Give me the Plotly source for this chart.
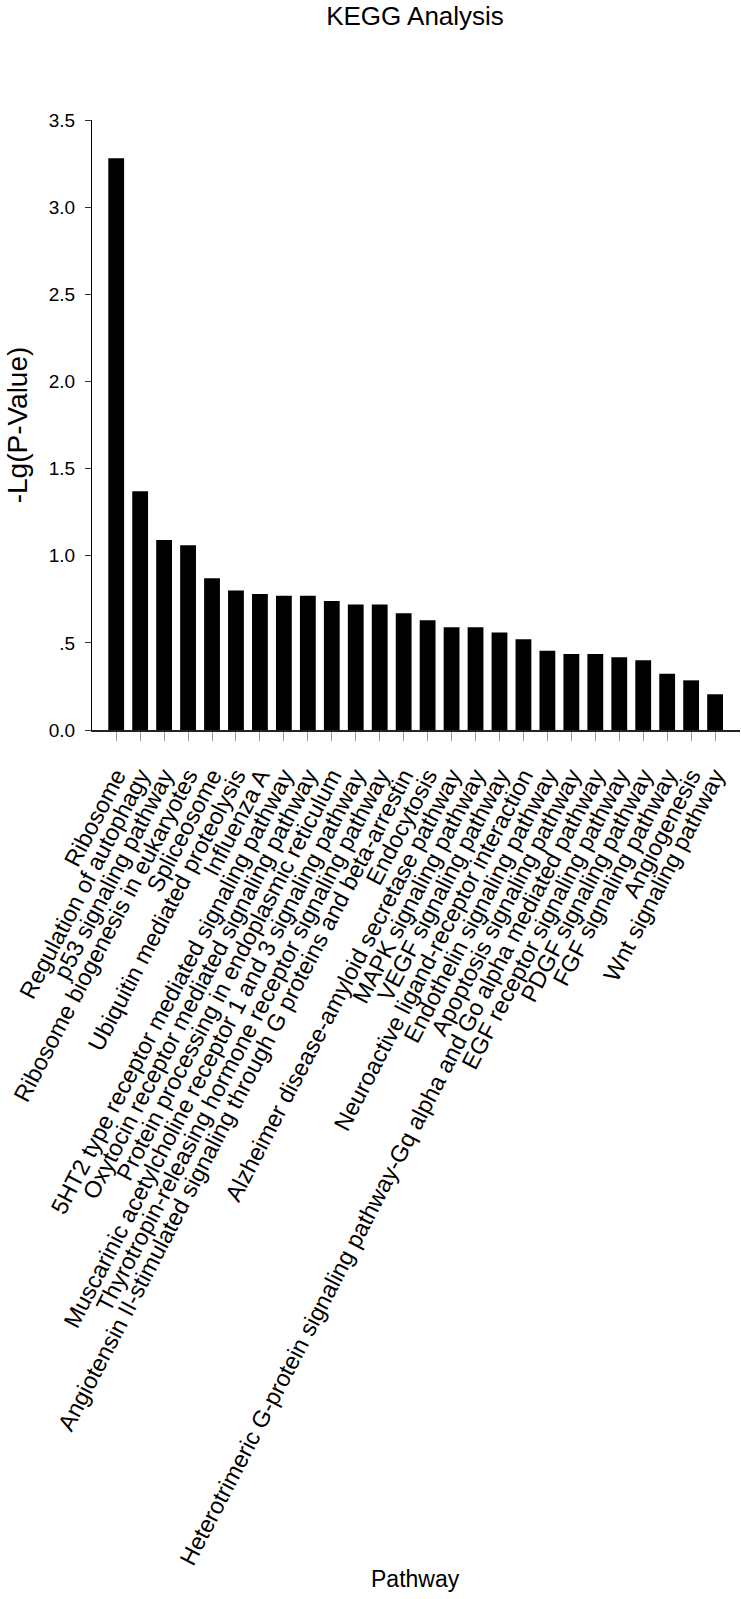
import plotly.graph_objects as go

# KEGG pathways, ordered as in the original figure
pathways = [
    "Ribosome",
    "Regulation of autophagy",
    "p53 signaling pathway",
    "Ribosome biogenesis in eukaryotes",
    "Spliceosome",
    "Ubiquitin mediated proteolysis",
    "Influenza A",
    "5HT2 type receptor mediated signaling pathway",
    "Oxytocin receptor mediated signaling pathway",
    "Protein processing in endoplasmic reticulum",
    "Muscarinic acetylcholine receptor 1 and 3 signaling pathway",
    "Thyrotropin-releasing hormone receptor signaling pathway",
    "Angiotensin II-stimulated signaling through G proteins and beta-arrestin",
    "Endocytosis",
    "Alzheimer disease-amyloid secretase pathway",
    "MAPK signaling pathway",
    "VEGF signaling pathway",
    "Neuroactive ligand-receptor interaction",
    "Endothelin signaling pathway",
    "Apoptosis signaling pathway",
    "Heterotrimeric G-protein signaling pathway-Gq alpha and Go alpha mediated pathway",
    "EGF receptor signaling pathway",
    "PDGF signaling pathway",
    "FGF signaling pathway",
    "Angiogenesis",
    "Wnt signaling pathway",
]

neg_lg_p = [
    3.28, 1.37, 1.09, 1.06, 0.87, 0.80, 0.78, 0.77, 0.77, 0.74, 0.72, 0.72, 0.67,
    0.63, 0.59, 0.59, 0.56, 0.52, 0.455, 0.436, 0.436, 0.417, 0.40, 0.323, 0.285, 0.205,
]

y_tick_vals = [0, 0.5, 1.0, 1.5, 2.0, 2.5, 3.0, 3.5]
y_tick_text = ["0.0", ".5", "1.0", "1.5", "2.0", "2.5", "3.0", "3.5"]

FONT = "Liberation Sans, Arial, sans-serif"

fig = go.Figure(
    go.Bar(
        x=pathways,
        y=neg_lg_p,
        width=0.66,
        marker=dict(color="black", line=dict(width=0)),
        hovertemplate="%{x}: %{y:.2f}<extra></extra>",
    )
)

fig.update_layout(
    width=741,
    height=1599,
    margin=dict(l=92, r=1, t=120, b=869),
    plot_bgcolor="white",
    paper_bgcolor="white",
    showlegend=False,
    font=dict(family=FONT, color="black"),
    title=dict(
        text="KEGG Analysis",
        font=dict(family=FONT, size=26, color="black"),
        x=415 / 741,
        xanchor="center",
        xref="container",
        y=1 - 16 / 1599,
        yanchor="middle",
        yref="container",
    ),
    xaxis=dict(
        type="category",
        automargin=False,
        range=[-1.01, 26.04],
        tickmode="array",
        tickvals=pathways,
        ticktext=pathways,
        showgrid=False,
        zeroline=False,
        showline=True,
        linecolor="#222222",
        linewidth=1.5,
        ticks="outside",
        ticklen=9,
        tickcolor="#999999",
        tickwidth=1,
        tickangle=-62.5,
        ticklabelstandoff=12,
        tickfont=dict(family=FONT, size=23.5, color="black"),
    ),
    yaxis=dict(
        automargin=False,
        range=[0, 3.5],
        showgrid=False,
        zeroline=False,
        showline=True,
        linecolor="black",
        linewidth=1,
        ticks="outside",
        ticklen=6,
        tickcolor="#333333",
        tickvals=y_tick_vals,
        ticktext=y_tick_text,
        ticklabelstandoff=6,
        tickfont=dict(family=FONT, size=19, color="black"),
        title=dict(
            text="-Lg(P-Value)",
            font=dict(family=FONT, size=28, color="black"),
            standoff=12,
        ),
    ),
    annotations=[
        dict(
            text="Pathway",
            xref="paper",
            yref="paper",
            x=(415 - 92) / 648,
            y=-(1579 - 730) / 610,
            xanchor="center",
            yanchor="middle",
            showarrow=False,
            font=dict(family=FONT, size=23, color="black"),
        )
    ],
)

# drop the browser's default page margin so the figure sits at (0, 0)
fig.write_html(
    "out.html",
    config={"displayModeBar": False},
    post_script="document.body.style.margin='0';document.body.style.overflow='hidden';",
)
